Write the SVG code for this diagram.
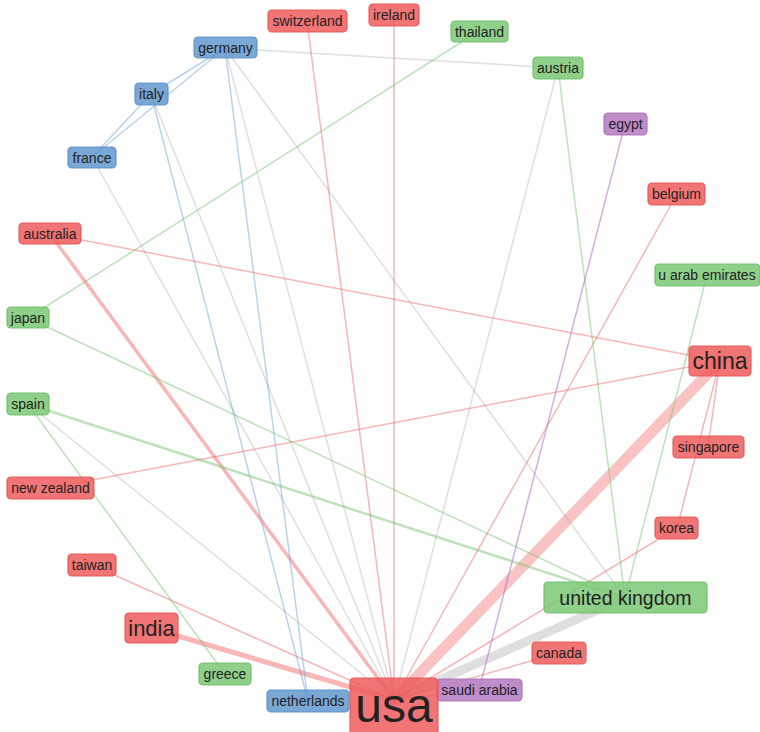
<svg xmlns="http://www.w3.org/2000/svg" width="760" height="732" viewBox="0 0 760 732">
<style>
.e{fill:none;stroke-linecap:round}
.r{stroke:rgba(240,80,80,0.42)}
.g{stroke:rgba(150,150,150,0.3)}
.b{stroke:rgba(100,155,215,0.45)}
.gr{stroke:rgba(110,190,105,0.45)}
.p{stroke:rgba(175,110,200,0.55)}
.n rect{stroke-width:1.2;fill-opacity:0.85;stroke-opacity:0.9}
.red rect{fill:#ee5d5d;stroke:#e35353}
.blue rect{fill:#6399cf;stroke:#5b90c8}
.green rect{fill:#7bc877;stroke:#6dbd68}
.purple rect{fill:#b579c2;stroke:#ab6fb8}
text{font-family:"Liberation Sans",Arial,sans-serif;fill:#222;text-anchor:middle}
.s{font-size:14px}
</style>
<g id="connectors" stroke-width="1.5">
<line class="e g" x1="625" y1="598" x2="394" y2="700" stroke-width="9"/>
<line class="e" stroke="rgba(240,80,80,0.34)" x1="720" y1="361" x2="394" y2="700" stroke-width="11"/>
<line class="e r" x1="151" y1="628" x2="394" y2="700" stroke-width="5"/>
<line class="e r" x1="50" y1="234" x2="394" y2="700" stroke-width="3.5"/>
<line class="e r" x1="307" y1="21" x2="394" y2="700"/>
<line class="e r" x1="394" y1="15" x2="394" y2="700"/>
<line class="e r" x1="677" y1="194" x2="394" y2="700"/>
<line class="e r" x1="677" y1="528" x2="394" y2="700"/>
<line class="e r" x1="559" y1="653" x2="394" y2="700"/>
<line class="e r" x1="92" y1="565" x2="394" y2="700"/>
<line class="e r" x1="479" y1="690" x2="394" y2="700"/>
<line class="e r" x1="50" y1="234" x2="720" y2="361"/>
<line class="e r" x1="50" y1="488" x2="720" y2="361"/>
<line class="e r" x1="708" y1="447" x2="720" y2="361"/>
<line class="e r" x1="677" y1="528" x2="720" y2="361"/>
<line class="e g" x1="225" y1="48" x2="394" y2="700"/>
<line class="e g" x1="151" y1="94" x2="394" y2="700"/>
<line class="e g" x1="92" y1="157" x2="394" y2="700"/>
<line class="e g" x1="28" y1="404" x2="394" y2="700"/>
<line class="e g" x1="558" y1="68" x2="394" y2="700"/>
<line class="e g" x1="225" y1="48" x2="625" y2="598"/>
<line class="e g" x1="225" y1="48" x2="558" y2="68"/>
<line class="e b" x1="225" y1="48" x2="308" y2="701"/>
<line class="e b" x1="151" y1="94" x2="308" y2="701"/>
<line class="e b" x1="225" y1="48" x2="151" y2="94"/>
<line class="e b" x1="225" y1="48" x2="92" y2="157"/>
<line class="e b" x1="151" y1="94" x2="92" y2="157"/>
<line class="e gr" x1="28" y1="318" x2="479" y2="31"/>
<line class="e gr" x1="28" y1="318" x2="625" y2="598"/>
<line class="e gr" x1="28" y1="404" x2="625" y2="598" stroke-width="2.5"/>
<line class="e gr" x1="28" y1="404" x2="225" y2="674"/>
<line class="e gr" x1="558" y1="68" x2="625" y2="598"/>
<line class="e gr" x1="707" y1="275" x2="625" y2="598"/>
<line class="e p" x1="625" y1="124" x2="479" y2="690"/>
</g>
<g id="switzerland" class="n red"><rect x="268" y="10" width="79" height="22" rx="4"/><text class="s" x="307.5" y="26">switzerland</text></g>
<g id="ireland" class="n red"><rect x="369" y="4" width="50" height="22" rx="4"/><text class="s" x="394" y="20">ireland</text></g>
<g id="thailand" class="n green"><rect x="451" y="21" width="57" height="21" rx="4"/><text class="s" x="479.5" y="36.5">thailand</text></g>
<g id="germany" class="n blue"><rect x="194" y="37" width="63" height="21" rx="4"/><text class="s" x="225.5" y="52.5">germany</text></g>
<g id="austria" class="n green"><rect x="533" y="57" width="50" height="22" rx="4"/><text class="s" x="558" y="73">austria</text></g>
<g id="italy" class="n blue"><rect x="135" y="83" width="33" height="22" rx="4"/><text class="s" x="151.5" y="99">italy</text></g>
<g id="egypt" class="n purple"><rect x="604" y="113" width="43" height="22" rx="4"/><text class="s" x="625.5" y="129">egypt</text></g>
<g id="france" class="n blue"><rect x="68" y="147" width="48" height="21" rx="4"/><text class="s" x="92" y="162.5">france</text></g>
<g id="belgium" class="n red"><rect x="648" y="183" width="57" height="22" rx="4"/><text class="s" x="676.5" y="199">belgium</text></g>
<g id="australia" class="n red"><rect x="19" y="223" width="62" height="21" rx="4"/><text class="s" x="50" y="238.5">australia</text></g>
<g id="u-arab-emirates" class="n green"><rect x="655" y="264" width="105" height="22" rx="4"/><text class="s" x="707" y="280">u arab emirates</text></g>
<g id="japan" class="n green"><rect x="7" y="307" width="42" height="21" rx="4"/><text class="s" x="28" y="322.5">japan</text></g>
<g id="china" class="n red"><rect x="689" y="346" width="62" height="30" rx="4"/><text x="720" y="369" font-size="23">china</text></g>
<g id="spain" class="n green"><rect x="7" y="393" width="42" height="22" rx="4"/><text class="s" x="28" y="409">spain</text></g>
<g id="singapore" class="n red"><rect x="673" y="436" width="71" height="22" rx="4"/><text class="s" x="708.5" y="452">singapore</text></g>
<g id="new-zealand" class="n red"><rect x="7" y="477" width="87" height="22" rx="4"/><text class="s" x="50.5" y="493">new zealand</text></g>
<g id="korea" class="n red"><rect x="655" y="517" width="43" height="22" rx="4"/><text class="s" x="676.5" y="533">korea</text></g>
<g id="taiwan" class="n red"><rect x="68" y="554" width="48" height="22" rx="4"/><text class="s" x="92" y="570">taiwan</text></g>
<g id="united-kingdom" class="n green"><rect x="544" y="582" width="163" height="31" rx="4"/><text x="625.5" y="605" font-size="19.5">united kingdom</text></g>
<g id="india" class="n red"><rect x="125" y="613" width="53" height="30" rx="4"/><text x="151.5" y="636" font-size="22">india</text></g>
<g id="canada" class="n red"><rect x="532" y="642" width="54" height="22" rx="4"/><text class="s" x="559" y="658">canada</text></g>
<g id="greece" class="n green"><rect x="199" y="663" width="52" height="22" rx="4"/><text class="s" x="225" y="679">greece</text></g>
<g id="saudi-arabia" class="n purple"><rect x="437" y="679" width="85" height="22" rx="4"/><text class="s" x="479.5" y="695">saudi arabia</text></g>
<g id="netherlands" class="n blue"><rect x="267" y="690" width="82" height="22" rx="4"/><text class="s" x="308" y="706">netherlands</text></g>
<g id="usa" class="n red"><rect x="350" y="678" width="88" height="60" rx="4"/><text x="394" y="722" font-size="48">usa</text></g>
</svg>
